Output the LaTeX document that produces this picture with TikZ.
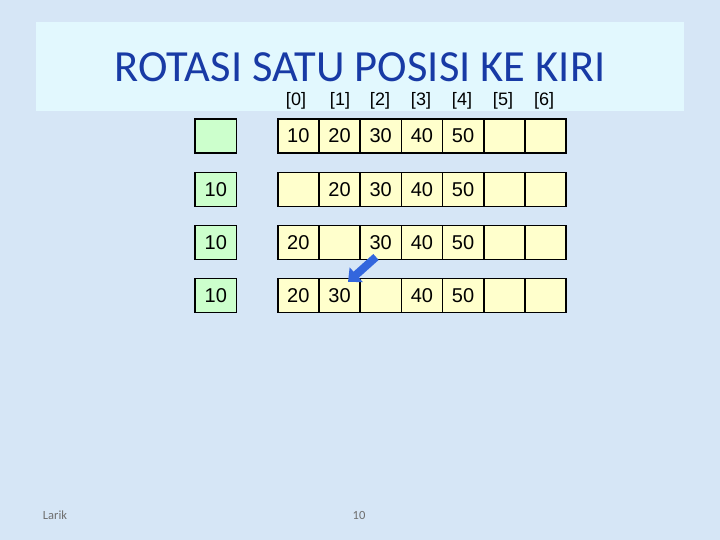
\documentclass[tikz,border=0pt]{standalone}
\usepackage{fontspec}
\setmainfont{Liberation Sans}
\newfontfamily\titlefont{Carlito}
\usetikzlibrary{arrows.meta}
\definecolor{bgblue}{RGB}{214,230,246}
\definecolor{titlebg}{RGB}{226,248,254}
\definecolor{titleblue}{RGB}{24,58,165}
\definecolor{cellyellow}{RGB}{255,255,204}
\definecolor{cellgreen}{RGB}{204,255,204}
\definecolor{arrowblue}{RGB}{51,102,221}
\definecolor{footgray}{RGB}{110,110,110}
\tikzset{
  cellbox/.style={draw=black, line width=1.6pt, fill=cellyellow, minimum width=41.2pt, minimum height=34pt, inner sep=0pt, font=\fontsize{20}{20}\selectfont},
  tmpbox/.style={cellbox, fill=cellgreen, minimum width=41.7pt},
  idx/.style={font=\fontsize{18}{18}\selectfont, inner sep=0pt},
  foot/.style={font=\titlefont\fontsize{12.5}{12.5}\selectfont, text=footgray, inner sep=0pt},
}
\begin{document}
\begin{tikzpicture}[x=1pt,y=-1pt]
\useasboundingbox (0,0) rectangle (720,540);
\fill[bgblue] (0,0) rectangle (720,540);
\fill[titlebg] (36,22) rectangle (684,111);
\node[font=\titlefont\fontsize{44.5}{44.5}\selectfont, text=titleblue, inner sep=0pt] (title) at (360,67) {ROTASI SATU POSISI KE KIRI};
% indices
\foreach \i/\x in {0/296,1/340,2/380,3/421,4/462,5/503,6/544}{
  \node[idx] (idx\i) at (\x,101) {[\i]};
}
% rows
\foreach \r/\y/\t/\a/\b/\c/\d/\e in {1/136//10/20/30/40/50, 2/189.6/10//20/30/40/50, 3/242.6/10/20//30/40/50, 4/295.6/10/20/30//40/50}{
  \node[tmpbox] (t\r) at (215.8,\y) {\t};
  \node[cellbox] (c\r0) at (298.3,\y) {\a};
  \node[cellbox] (c\r1) at (339.5,\y) {\b};
  \node[cellbox] (c\r2) at (380.7,\y) {\c};
  \node[cellbox] (c\r3) at (421.9,\y) {\d};
  \node[cellbox] (c\r4) at (463.1,\y) {\e};
  \node[cellbox] (c\r5) at (504.3,\y) {};
  \node[cellbox] (c\r6) at (545.5,\y) {};
}
% arrow
\coordinate (atail) at (376,257);
\coordinate (ahead) at (348,282);
\draw[arrowblue, line width=8pt, -{Triangle[width=19pt,length=11pt]}] (atail) -- (ahead);
% footer
\node[foot] (larik) at (55,515) {Larik};
\node[foot] (page) at (359,515) {10};
\end{tikzpicture}
\end{document}
